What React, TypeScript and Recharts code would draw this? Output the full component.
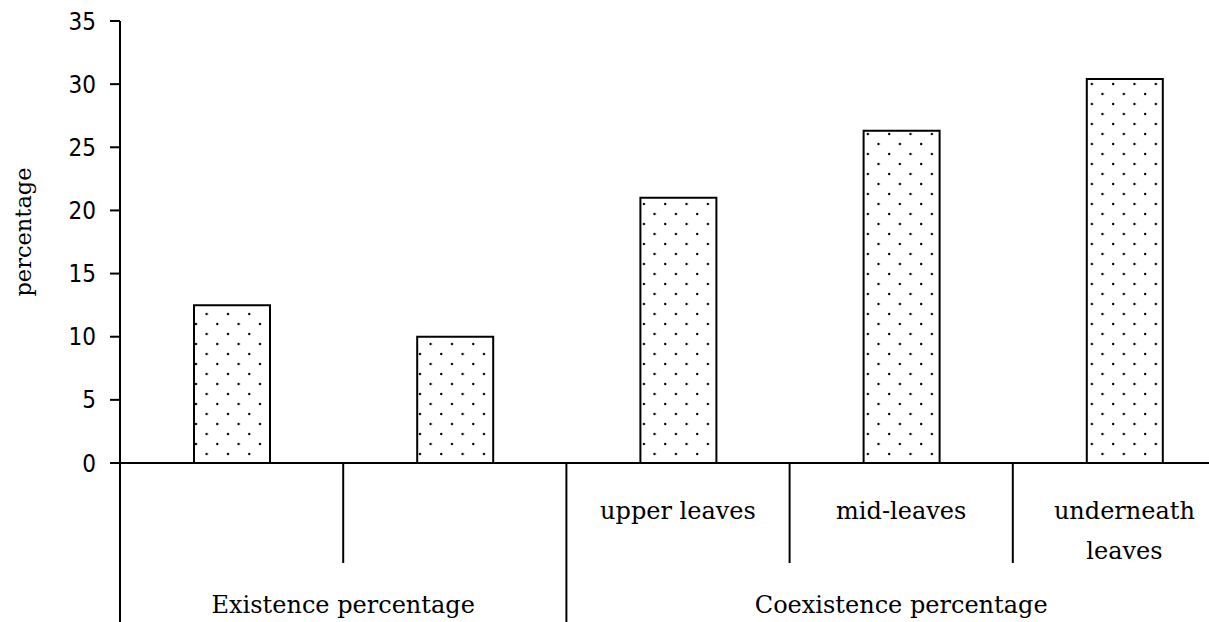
import { BarChart, Bar, XAxis, YAxis } from 'recharts';

// category labels (first two sit under the "Existence" group and have no label)
const categories = ['', '', 'upper leaves', 'mid-leaves', 'underneath\nleaves'];
const percentages = [12.5, 10, 21, 26.3, 30.4];
const yTicks = [0, 5, 10, 15, 20, 25, 30, 35];
const groups = [
  { label: 'Existence percentage', start: 0, span: 2 },
  { label: 'Coexistence percentage', start: 2, span: 3 },
];

const CHART_W = 1240;
const CHART_H = 622;
const X_AXIS_H = 159;
const serif = "'DejaVu Serif', serif";

const data = categories.map((name, i) => ({ name: `c${i}`, label: name, value: percentages[i] }));

const CategoryTick = (props: any) => {
  const { x, y, payload, index } = props;
  const half = payload.offset || (CHART_W - 124) / categories.length / 2;
  const left = x - half;
  const bottom = CHART_H;
  const group = groups.find(g => g.start === index);
  const lines = (categories[index] || '').split('\n').filter(Boolean);

  return (
    <g>
      {/* separator on the left side of each category */}
      <line
        x1={left}
        x2={left}
        y1={y}
        y2={group ? bottom : y + 100}
        stroke="#000"
        strokeWidth={2}
      />
      {lines.map((t, k) => (
        <text
          key={k}
          x={x}
          y={y + 48 + k * 40}
          dy="0.35em"
          textAnchor="middle"
          fontFamily={serif}
          fontSize={24}
          fill="#000"
        >
          {t}
        </text>
      ))}
      {group && (
        <text
          x={left + group.span * half}
          y={y + 142}
          dy="0.35em"
          textAnchor="middle"
          fontFamily={serif}
          fontSize={24}
          fill="#000"
        >
          {group.label}
        </text>
      )}
    </g>
  );
};

const YLabel = ({ viewBox }: any) => {
  const cx = viewBox.x + 23;
  const cy = viewBox.y + viewBox.height / 2 - 10;
  return (
    <text
      x={cx}
      y={cy}
      transform={`rotate(-90 ${cx} ${cy})`}
      textAnchor="middle"
      dominantBaseline="central"
      fontFamily={serif}
      fontSize={22.5}
      fill="#000"
    >
      percentage
    </text>
  );
};

export default function App() {
  return (
    <div style={{ position: 'absolute', left: 0, top: 0, width: 1209, height: 622, overflow: 'hidden', background: '#fff' }}>
      <BarChart
        width={CHART_W}
        height={CHART_H}
        data={data}
        margin={{ top: 21, right: 4, left: 0, bottom: 0 }}
      >
        <defs>
          <pattern id="dots" patternUnits="userSpaceOnUse" width={21.33} height={20}>
            <circle cx={4} cy={4} r={1.2} fill="#000" />
            <circle cx={14.67} cy={14} r={1.2} fill="#000" />
          </pattern>
        </defs>
        <XAxis
          dataKey="name"
          height={X_AXIS_H}
          axisLine={{ stroke: '#000', strokeWidth: 2 }}
          tickLine={false}
          tickSize={0}
          tickMargin={0}
          interval={0}
          tick={<CategoryTick />}
        />
        <YAxis
          width={120}
          domain={[0, 35]}
          ticks={yTicks}
          interval={0}
          axisLine={{ stroke: '#000', strokeWidth: 2 }}
          tickLine={{ stroke: '#000', strokeWidth: 2 }}
          tickSize={10}
          tickMargin={14}
          tick={{ fill: '#000', fontSize: 24, fontFamily: "'DejaVu Sans Condensed', 'DejaVu Sans', sans-serif", fontStretch: 'condensed' } as any}
          label={<YLabel />}
        />
        <Bar
          dataKey="value"
          barSize={76}
          fill="url(#dots)"
          stroke="#000"
          strokeWidth={2}
          isAnimationActive={false}
        />
      </BarChart>
    </div>
  );
}
